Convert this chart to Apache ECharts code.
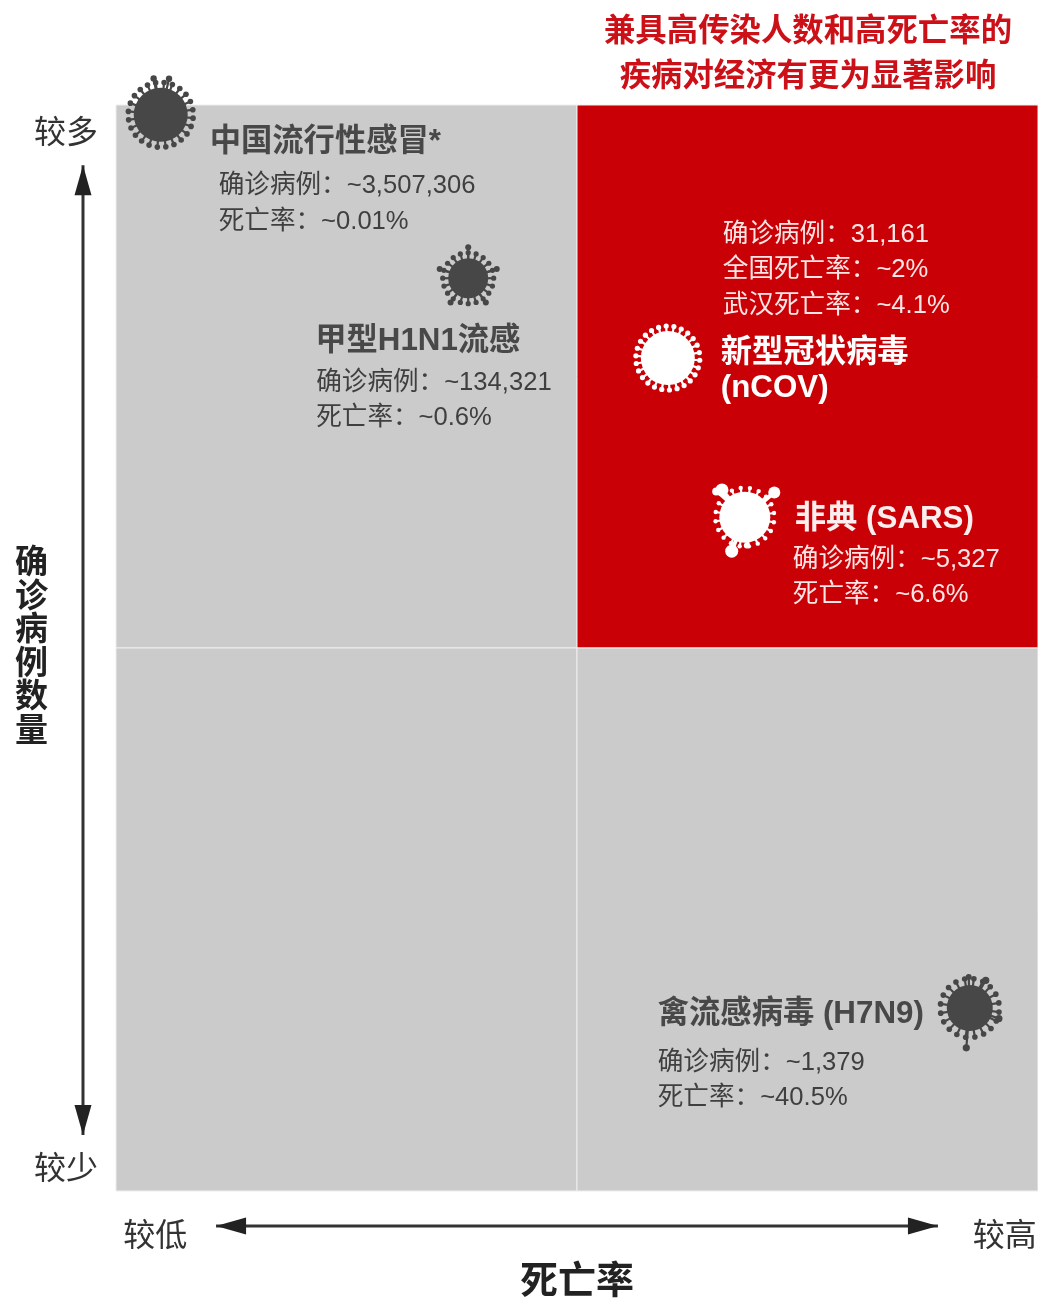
<!DOCTYPE html>
<html>
<head>
<meta charset="utf-8">
<title>疫情对比</title>
<style>
  html, body { margin: 0; padding: 0; background: #fff; }
  #chart { width: 1038px; height: 1299px; }
</style>
<script src="https://cdn.jsdelivr.net/npm/echarts@6/dist/echarts.min.js"></script>
</head>
<body>
<div id="chart"></div>
<script>
  // axes are schematic: 0..2 on both, split in the middle
  const xTickValues = [0.085, 1.928];
  const xTickLabels = ['较低', '较高'];
  const yTickValues = [0.039, 1.947];
  const yTickLabels = ['较少', '较多'];

  const quadrantX = [0, 1, 0, 1];
  const quadrantY = [1, 1, 0, 0];
  const quadrantHot = [0, 1, 0, 0];

  const virusNames = ['中国流行性感冒*', '甲型H1N1流感', '新型冠状病毒', '非典 (SARS)', '禽流感病毒 (H7N9)'];
  const virusDeathPos = [0.097, 0.764, 1.197, 1.364, 1.852];
  const virusCasePos = [1.982, 1.681, 1.534, 1.241, 0.337];
  const confirmedCases = ['~3,507,306', '~134,321', '31,161', '~5,327', '~1,379'];
  const deathRates = ['~0.01%', '~0.6%', '~2%', '~6.6%', '~40.5%'];
  const wuhanDeathRate = '~4.1%';

  const RED = '#c90006';
  const GREY = '#cbcbcb';
  const DARK = '#3f3f3f';
  const FONT = '"Liberation Sans","Noto Sans CJK SC",sans-serif';

  // px offsets from the virus centre to its text block
  const labelLayout = [
    { hx: 49, hy: 25, dx: 58, dy: 69, step: 35.5, fill: '#484848', sub: DARK },
    { hx: -153, hy: 61, dx: -152, dy: 102, step: 35.5, fill: '#484848', sub: DARK },
    { hx: 53, hy: -7, dx: 55, dy: -126, step: 35.5, fill: '#fff', sub: '#fde6e6' },
    { hx: 50, hy: 0, dx: 48, dy: 40, step: 35.5, fill: '#fbeeee', sub: '#fde6e6' },
    { hx: -312, hy: 4, dx: -312, dy: 52, step: 35.5, fill: '#484848', sub: DARK }
  ];

  const virusShapes = [
    { r: 27, count: 24, len: 5.5, head: 2.8, start: 6, color: '#474747', long: [[-101, 10, 3.2], [-77, 10, 3.2]] },
    { r: 20, count: 20, len: 5.5, head: 2.6, start: 0, color: '#474747', long: [[-90, 11, 3], [-18, 10, 3], [54, 10, 3], [126, 10, 3], [198, 10, 3]] },
    { r: 27, count: 26, len: 5, head: 2.6, start: 4, color: '#fff', long: [] },
    { r: 25.5, count: 20, len: 4, head: 2.2, start: 10, color: '#fff', long: [[-130, 10, 6.5], [-138, 13, 4], [-40, 13, 6], [111, 11, 6.5], [86, 3, 3]] },
    { r: 23, count: 20, len: 6.5, head: 2.8, start: 8, color: '#474747', long: [[95, 17, 3.6], [-92, 8, 3], [-60, 9, 3.6], [20, 8, 3.6]] }
  ];

  function renderQuadrant(params, api) {
    const p0 = api.coord([api.value(0), api.value(1) + 1]);
    const p1 = api.coord([api.value(0) + 1, api.value(1)]);
    return {
      type: 'rect',
      shape: { x: p0[0], y: p0[1], width: p1[0] - p0[0], height: p1[1] - p0[1] },
      style: { fill: api.value(2) ? RED : GREY, stroke: '#eeeeee', lineWidth: 1 }
    };
  }

  function renderVirus(params, api) {
    const c = api.coord([api.value(0), api.value(1)]);
    const s = virusShapes[params.dataIndex];
    const children = [];
    const addSpike = (deg, len, head) => {
      const a = (deg * Math.PI) / 180;
      const dist = s.r + len;
      children.push({
        type: 'line',
        shape: { x1: c[0], y1: c[1], x2: c[0] + Math.cos(a) * dist, y2: c[1] + Math.sin(a) * dist },
        style: { stroke: s.color, lineWidth: head > 5 ? 4 : 2.2 }
      });
      children.push({
        type: 'circle',
        shape: { cx: c[0] + Math.cos(a) * dist, cy: c[1] + Math.sin(a) * dist, r: head },
        style: { fill: s.color }
      });
    };
    for (let i = 0; i < s.count; i++) {
      addSpike(s.start + (i * 360) / s.count, s.len, s.head);
    }
    s.long.forEach(item => addSpike(item[0], item[1], item[2]));
    children.push({ type: 'circle', shape: { cx: c[0], cy: c[1], r: s.r }, style: { fill: s.color } });
    return { type: 'group', children: children };
  }

  function textEl(x, y, text, font, fill) {
    return { type: 'text', x: x, y: y + 2.5, style: { text: text, font: font, fill: fill, align: 'left', verticalAlign: 'middle' } };
  }

  function renderLabel(params, api) {
    const i = params.dataIndex;
    const c = api.coord([api.value(0), api.value(1)]);
    const l = labelLayout[i];
    const bold = 'bold 31.3px ' + FONT;
    const thin = '25.6px ' + FONT;
    const children = [textEl(c[0] + l.hx, c[1] + l.hy, virusNames[i], bold, l.fill)];
    let lines = ['确诊病例：' + confirmedCases[i], '死亡率：' + deathRates[i]];
    if (i === 2) {
      children.push(textEl(c[0] + l.hx, c[1] + l.hy + 35, '(nCOV)', bold, l.fill));
      lines = ['确诊病例：' + confirmedCases[i], '全国死亡率：' + deathRates[i], '武汉死亡率：' + wuhanDeathRate];
    }
    lines.forEach((line, k) => {
      children.push(textEl(c[0] + l.dx, c[1] + l.dy + k * l.step, line, thin, l.sub));
    });
    return { type: 'group', children: children };
  }

  // double headed arrows beside the grid, ends given in axis units
  function renderArrow(params, api) {
    const a = api.coord([api.value(0), api.value(1)]);
    const b = api.coord([api.value(2), api.value(3)]);
    const horizontal = Math.abs(a[1] - b[1]) < 1;
    const head = 30;
    const half = 8.5;
    const tri = (tip, dir) => {
      const pts = horizontal
        ? [tip, [tip[0] + dir * head, tip[1] - half], [tip[0] + dir * head, tip[1] + half]]
        : [tip, [tip[0] - half, tip[1] + dir * head], [tip[0] + half, tip[1] + dir * head]];
      return { type: 'polygon', shape: { points: pts }, style: { fill: '#222' } };
    };
    return {
      type: 'group',
      children: [
        { type: 'line', shape: { x1: a[0], y1: a[1], x2: b[0], y2: b[1] }, style: { stroke: '#333', lineWidth: 3 } },
        tri(a, 1),
        tri(b, -1)
      ]
    };
  }

  const myChart = echarts.init(document.getElementById('chart'));
  myChart.setOption({
    backgroundColor: '#fff',
    animation: false,
    title: {
      text: '兼具高传染人数和高死亡率的\n疾病对经济有更为显著影响',
      left: 808,
      top: 10,
      padding: 0,
      textAlign: 'center',
      textStyle: { color: '#cc1018', fontSize: 31.4, fontWeight: 'bold', lineHeight: 45, fontFamily: FONT }
    },
    grid: { left: 116, top: 105, right: 0, bottom: 108, outerBoundsMode: 'none' },
    xAxis: {
      type: 'value',
      min: 0,
      max: 2,
      name: '死亡率',
      nameLocation: 'middle',
      nameGap: 73,
      nameTextStyle: { color: '#222', fontSize: 38, fontWeight: 'bold', fontFamily: FONT },
      axisLine: { show: false },
      axisTick: { show: false },
      splitLine: { show: false },
      axisLabel: {
        customValues: xTickValues,
        margin: 30,
        hideOverlap: false,
        color: '#333',
        fontSize: 32,
        fontFamily: FONT,
        formatter: value => xTickLabels[xTickValues.indexOf(value)]
      }
    },
    yAxis: {
      type: 'value',
      min: 0,
      max: 2,
      name: '确\n诊\n病\n例\n数\n量',
      nameLocation: 'middle',
      nameRotate: 0,
      nameGap: 68,
      nameMoveOverlap: false,
      nameTextStyle: { color: '#222', fontSize: 33, fontWeight: 'bold', lineHeight: 33.5, padding: [13, 0, 0, 0], fontFamily: FONT },
      axisLine: { show: false },
      axisTick: { show: false },
      splitLine: { show: false },
      axisLabel: {
        customValues: yTickValues,
        margin: 18,
        hideOverlap: false,
        color: '#333',
        fontSize: 32,
        fontFamily: FONT,
        formatter: value => yTickLabels[yTickValues.indexOf(value)]
      }
    },
    series: [
      {
        type: 'custom',
        name: 'quadrants',
        z: 1,
        silent: true,
        renderItem: renderQuadrant,
        encode: { x: 0, y: 1 },
        data: quadrantX.map((x, i) => [x, quadrantY[i], quadrantHot[i]])
      },
      {
        type: 'custom',
        name: 'arrows',
        z: 2,
        silent: true,
        renderItem: renderArrow,
        data: [
          [0.217, -0.0645, 1.783, -0.0645],
          [-0.0716, 1.889, -0.0716, 0.103]
        ]
      },
      {
        type: 'custom',
        name: 'viruses',
        z: 3,
        silent: true,
        renderItem: renderVirus,
        encode: { x: 0, y: 1 },
        data: virusDeathPos.map((x, i) => [x, virusCasePos[i]])
      },
      {
        type: 'custom',
        name: 'labels',
        z: 4,
        silent: true,
        renderItem: renderLabel,
        encode: { x: 0, y: 1 },
        data: virusDeathPos.map((x, i) => [x, virusCasePos[i]])
      }
    ]
  });
  window.addEventListener('resize', () => myChart.resize());
</script>
</body>
</html>
